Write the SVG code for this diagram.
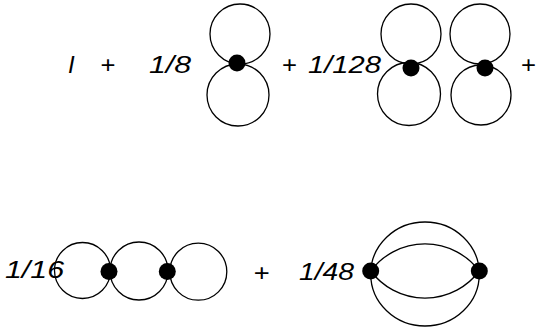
<svg xmlns="http://www.w3.org/2000/svg" width="536" height="331" viewBox="0 0 536 331">
<style>
.l{fill:none;stroke:#000;stroke-width:1.3}
.d{fill:#000}
.t{font-family:"Liberation Sans",Arial,sans-serif;font-size:24px;font-style:italic;fill:#000}
.p{font-family:"Liberation Sans",Arial,sans-serif;font-size:24px;fill:#000}
</style>
<rect width="536" height="331" fill="#fff"/>
<g id="labels">
<text class="t" x="68" y="73">I</text>
<text class="p" x="100.4" y="73" textLength="15" lengthAdjust="spacingAndGlyphs">+</text>
<text class="t" x="149" y="73" textLength="42" lengthAdjust="spacingAndGlyphs">1/8</text>
<text class="p" x="282" y="73" textLength="15" lengthAdjust="spacingAndGlyphs">+</text>
<text class="t" x="308" y="73" textLength="73" lengthAdjust="spacingAndGlyphs">1/128</text>
<text class="p" x="521" y="73" textLength="15" lengthAdjust="spacingAndGlyphs">+</text>
<text class="t" x="5" y="278" textLength="59" lengthAdjust="spacingAndGlyphs">1/16</text>
<text class="p" x="253.7" y="281" textLength="16" lengthAdjust="spacingAndGlyphs">+</text>
<text class="t" x="299" y="280" textLength="55" lengthAdjust="spacingAndGlyphs">1/48</text>
</g>
<g id="connectors">
<circle class="l" cx="240" cy="34" r="30"/>
<circle class="l" cx="238" cy="95" r="31"/>
<circle class="l" cx="411" cy="34" r="30"/>
<circle class="l" cx="409" cy="94" r="31.5"/>
<circle class="l" cx="480" cy="34" r="30"/>
<circle class="l" cx="481" cy="95" r="30"/>
<circle class="l" cx="82.5" cy="270.5" r="28"/>
<circle class="l" cx="139" cy="271" r="29"/>
<circle class="l" cx="198.3" cy="271.7" r="28.5"/>
<ellipse class="l" cx="425" cy="274" rx="54.3" ry="52"/>
<path class="l" d="M370.7,271 A68,68 0 0 1 479.3,271"/>
<path class="l" d="M370.7,271 A68,68 0 0 0 479.3,271"/>
</g>
<g id="node1"><circle class="d" cx="237" cy="63" r="8.5"/></g>
<g id="node2"><circle class="d" cx="411" cy="68" r="8.5"/></g>
<g id="node3"><circle class="d" cx="485" cy="68" r="8.5"/></g>
<g id="node4"><circle class="d" cx="109" cy="271.5" r="8.5"/></g>
<g id="node5"><circle class="d" cx="167.3" cy="271.5" r="8.5"/></g>
<g id="node6"><circle class="d" cx="370.7" cy="271" r="8.5"/></g>
<g id="node7"><circle class="d" cx="479.3" cy="271" r="8.5"/></g>
</svg>
